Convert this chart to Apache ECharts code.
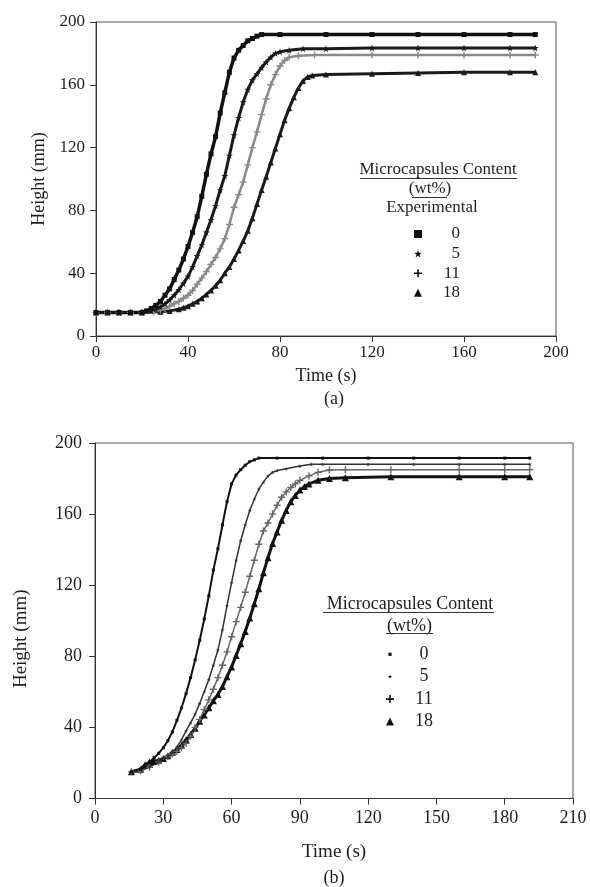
<!DOCTYPE html>
<html>
<head>
<meta charset="utf-8">
<script src="https://cdn.jsdelivr.net/npm/echarts@6/dist/echarts.min.js"></script>
<style>
  html, body { margin: 0; padding: 0; background: #fff; }
  #ca { position: absolute; left: 0; top: 0; width: 590px; height: 430px; }
  #cb { position: absolute; left: 0; top: 430px; width: 590px; height: 457px; }
</style>
</head>
<body>
<div id="ca"></div>
<div id="cb"></div>
<script>
// ---------- DATA: chart (a) ----------
const seriesNames = ['0', '5', '11', '18'];
const xTicksA = [0, 40, 80, 120, 160, 200];
const yTicks = [0, 40, 80, 120, 160, 200];
const xTicksB = [0, 30, 60, 90, 120, 150, 180, 210];

const tA0 = [0,5,10,15,20,22,24,26,28,30,32,34,36,38,40,42,44,46,48,50,52,54,56,58,60,62,64,66,68,70,72,80,100,120,140,160,180,191];
const hA0 = [15,15,15,15,15,16,17.5,19.5,22,26,30,36,42,49,57,66,76,89,103,116,127,142,155,168,177,182,185,188,189.5,191,192,192,192,192,192,192,192,192];

const tA5 = [0,5,10,15,20,24,26,28,30,32,34,36,38,40,42,44,46,48,50,52,54,56,58,60,62,64,66,68,70,72,74,76,78,80,84,90,100,120,140,160,180,191];
const hA5 = [15,15,15,15,15,16,17,18.5,20.5,23,26,29.5,33.5,38,44,51,58,66,74,83,93,102,115,128,139,149,157,163,167,171,174.5,177.5,180,181,182,183,183,183.5,183.5,183.5,183.5,183.5];

const tA11 = [0,5,10,15,20,25,28,30,32,34,36,38,40,42,44,46,48,50,52,54,56,58,60,62,64,66,68,70,72,74,76,78,80,82,84,88,95,120,140,160,180,191];
const hA11 = [15,15,15,15,15,15.5,16.5,17.5,19,20.5,22,24,26,29,33,37,41,45.5,50,55.5,62,71,82,90,98,109,120,130,141,151,160,166.5,172,175.5,177.5,178.5,179,179,179,179,179,179];

const tA18 = [0,5,10,15,20,28,32,36,38,40,42,44,46,48,50,52,54,56,58,60,62,64,66,68,70,72,74,76,78,80,82,84,86,88,90,92,94,100,120,140,160,180,191];
const hA18 = [15,15,15,15,15,15.5,16,17,18,19,20.5,22,24,26.5,29,32,35.5,40,44,49,54.5,60.5,67,75,84,93,101.5,110.5,119.5,128.5,137.5,145,152,158,162.5,165,166,166.5,167,167.5,168,168,168];

// ---------- DATA: chart (b) ----------
const tB0 = [16,18,20,22,24,26,28,30,32,34,36,38,40,42,44,46,48,50,52,54,56,58,60,62,64,66,68,70,72,80,100,120,140,160,180,191];
const hB0 = [15,15.5,16.5,18.5,20.5,23,25.5,28.5,32.5,37.5,44,51,59,68,78,89,101,114,128.5,140.5,154,167,177,182,185,187.5,189.5,190.5,191.5,191.5,191.5,191.5,191.5,191.5,191.5,191.5];

const tB5 = [16,20,24,28,30,32,34,36,38,40,42,44,46,48,50,52,54,56,58,60,62,64,66,68,70,72,74,76,78,80,84,90,95,100,120,140,160,180,191];
const hB5 = [15,16,18,21,22.5,24,26,29,33,38,42.5,47.5,53.5,60,67,75,83.5,95,108.5,121.5,134,145,154,162,168.5,174,178,181.5,183.5,184.5,185.5,187,188,188,188,188,188,188,188];

const tB11 = [16,20,24,28,32,34,36,38,40,42,44,46,48,50,52,54,56,58,60,62,64,66,68,70,72,74,76,78,80,82,84,86,88,90,94,98,103,110,130,160,180,191];
const hB11 = [15,15.5,17.5,20.5,23.5,25,26.5,28.5,31,35,40,44.5,50,55.5,61.5,68,75,82.5,91,99.5,107.5,116,125,134,143,150.5,155,160,165,169.5,172.5,175,177,179,181.5,183.5,184.8,185,185,185,185,185];

const tB18 = [16,20,22,24,26,28,30,32,34,36,38,40,42,44,46,48,50,52,54,56,58,60,62,64,66,68,70,72,74,76,78,80,82,84,86,88,90,92,94,98,103,110,130,160,180,191];
const hB18 = [15,16.5,19,20.5,21,21.5,22.5,24,26,27.5,30,33,36,39.5,43.5,47,51,55,58.5,63,68.5,74,80.5,87,94,101.5,109.5,118,127,135.5,143.5,150,156.5,162,167,170.5,173.5,175.5,177,179,180,180.5,181,181,181,181];

// ---------- helpers ----------
const FONT = 'Liberation Serif';
const INK = '#1e1e1e';
const STAR = 'path://M50,0L61,35L98,35L68,57L79,91L50,70L21,91L32,57L2,35L39,35Z';
const PLUS = 'path://M4,0H6V4H10V6H6V10H4V6H0V4H4Z';
function zip(t, h) { return t.map((v, i) => [v, h[i]]); }

function axes(xTicks, xMax, xInt, fs, xMargin, yMargin, xNameGap, yNameGap, yPad) {
  const common = {
    axisLine: { show: true, lineStyle: { color: '#333', width: 1 } },
    axisTick: { show: true, inside: false, length: 6, lineStyle: { color: '#333' } },
    splitLine: { show: false },
    nameTextStyle: { fontFamily: FONT, fontSize: fs + 1, color: INK }
  };
  return {
    xAxis: Object.assign({}, common, {
      type: 'value', min: xTicks[0], max: xMax, interval: xInt,
      name: 'Time (s)', nameLocation: 'middle', nameGap: xNameGap,
      axisLabel: { fontFamily: FONT, fontSize: fs, color: INK, margin: xMargin }
    }),
    yAxis: Object.assign({}, common, {
      type: 'value', min: yTicks[0], max: yTicks[yTicks.length - 1], interval: 40,
      name: 'Height (mm)', nameLocation: 'middle', nameGap: yNameGap, nameRotate: 90,
      nameTextStyle: { fontFamily: FONT, fontSize: fs + 1, color: INK, padding: yPad },
      axisLabel: { fontFamily: FONT, fontSize: fs, color: INK, margin: yMargin }
    })
  };
}

function lineSeries(name, data, symbol, size, color, lw) {
  return {
    name: name, type: 'line', data: data,
    symbol: symbol, symbolSize: size, showSymbol: true, showAllSymbol: true,
    itemStyle: { color: color },
    lineStyle: { color: color, width: lw },
    emphasis: { disabled: true }, silent: true, z: 3
  };
}

// ---------- chart (a) ----------
const chartA = echarts.init(document.getElementById('ca'), null, { renderer: 'canvas' });
const axA = axes(xTicksA, 200, 40, 17, 8, 11, 31, 47, [0, 0, 0, 0]);
chartA.setOption({
  animation: false,
  backgroundColor: '#fff',
  grid: { left: 96, top: 22, width: 460, height: 314, show: true, borderColor: '#555', borderWidth: 1, backgroundColor: 'transparent' },
  xAxis: axA.xAxis,
  yAxis: axA.yAxis,
  legend: {
    orient: 'vertical', left: 409, top: 220.5, itemWidth: 8, itemHeight: 8, itemGap: 2.6,
    selectedMode: false,
    formatter: '{n|{name}}',
    textStyle: { fontFamily: FONT, fontSize: 17, color: INK, rich: { n: { width: 33, align: 'right', fontFamily: FONT, fontSize: 17, lineHeight: 17, color: INK } } },
    data: [
      { name: seriesNames[0], icon: 'rect', itemStyle: { color: '#111' } },
      { name: seriesNames[1], icon: STAR, itemStyle: { color: '#111' } },
      { name: seriesNames[2], icon: PLUS, itemStyle: { color: '#111' } },
      { name: seriesNames[3], icon: 'triangle', itemStyle: { color: '#111' } }
    ]
  },
  graphic: [
    { type: 'text', x: 438, y: 170, style: { text: 'Microcapsules Content', fontFamily: FONT, fontSize: 17, fill: INK, align: 'center', verticalAlign: 'middle' } },
    { type: 'line', shape: { x1: 360, y1: 178.5, x2: 517, y2: 178.5 }, style: { stroke: '#333', lineWidth: 1 } },
    { type: 'text', x: 430, y: 189, style: { text: '(wt%)', fontFamily: FONT, fontSize: 17, fill: INK, align: 'center', verticalAlign: 'middle' } },
    { type: 'line', shape: { x1: 412, y1: 197.5, x2: 447, y2: 197.5 }, style: { stroke: '#333', lineWidth: 1 } },
    { type: 'text', x: 432, y: 208, style: { text: 'Experimental', fontFamily: FONT, fontSize: 17, fill: INK, align: 'center', verticalAlign: 'middle' } },
    { type: 'text', x: 334, y: 399, style: { text: '(a)', fontFamily: FONT, fontSize: 18, fill: INK, align: 'center', verticalAlign: 'middle' } }
  ],
  series: [
    lineSeries(seriesNames[3], zip(tA18, hA18), 'triangle', 6, '#1a1a1a', 3),
    lineSeries(seriesNames[2], zip(tA11, hA11), PLUS, 7, '#8a8a8a', 2.5),
    lineSeries(seriesNames[1], zip(tA5, hA5), STAR, 7, '#1a1a1a', 3),
    lineSeries(seriesNames[0], zip(tA0, hA0), 'rect', 5, '#111', 3.5)
  ]
});

// ---------- chart (b) ----------
const chartB = echarts.init(document.getElementById('cb'), null, { renderer: 'canvas' });
const axB = axes(xTicksB, 210, 30, 18, 11, 13, 44, 64, [0, 36, 0, 0]);
chartB.setOption({
  animation: false,
  backgroundColor: '#fff',
  grid: { left: 95, top: 13, width: 478, height: 355.5, show: true, borderColor: '#555', borderWidth: 1, backgroundColor: 'transparent' },
  xAxis: axB.xAxis,
  yAxis: axB.yAxis,
  legend: {
    orient: 'vertical', left: 381, top: 210.3, itemWidth: 8, itemHeight: 8, itemGap: 4.4,
    selectedMode: false,
    formatter: '{n|{name}}',
    textStyle: { fontFamily: FONT, fontSize: 18, color: INK, rich: { n: { width: 50, align: 'center', fontFamily: FONT, fontSize: 18, lineHeight: 18, color: INK } } },
    data: [
      { name: seriesNames[0], icon: 'path://M0,0M10,10M3,3H7V7H3Z', itemStyle: { color: '#111' } },
      { name: seriesNames[1], icon: 'path://M0,0M100,100M50,20L56,40L78,40L60,53L67,73L50,61L33,73L40,53L22,40L44,40Z', itemStyle: { color: '#111' } },
      { name: seriesNames[2], icon: PLUS, itemStyle: { color: '#111' } },
      { name: seriesNames[3], icon: 'triangle', itemStyle: { color: '#111' } }
    ]
  },
  graphic: [
    { type: 'text', x: 410, y: 174, style: { text: 'Microcapsules Content', fontFamily: FONT, fontSize: 18, fill: INK, align: 'center', verticalAlign: 'middle' } },
    { type: 'line', shape: { x1: 323, y1: 182.5, x2: 494, y2: 182.5 }, style: { stroke: '#333', lineWidth: 1 } },
    { type: 'text', x: 409.5, y: 196, style: { text: '(wt%)', fontFamily: FONT, fontSize: 18, fill: INK, align: 'center', verticalAlign: 'middle' } },
    { type: 'line', shape: { x1: 386, y1: 203.5, x2: 433, y2: 203.5 }, style: { stroke: '#333', lineWidth: 1 } },
    { type: 'text', x: 334, y: 448, style: { text: '(b)', fontFamily: FONT, fontSize: 18, fill: INK, align: 'center', verticalAlign: 'middle' } }
  ],
  series: [
    lineSeries(seriesNames[3], zip(tB18, hB18), 'triangle', 7, '#111', 3),
    lineSeries(seriesNames[2], zip(tB11, hB11), PLUS, 7, '#666', 1.5),
    lineSeries(seriesNames[1], zip(tB5, hB5), STAR, 4, '#333', 1.5),
    lineSeries(seriesNames[0], zip(tB0, hB0), 'rect', 3, '#111', 2)
  ]
});
</script>
</body>
</html>
